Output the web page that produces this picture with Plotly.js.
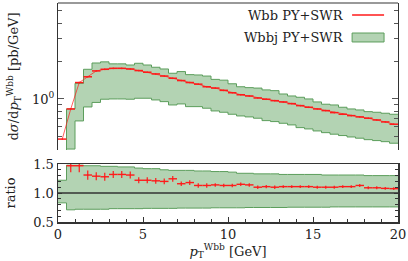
<!DOCTYPE html>
<html>
<head>
<meta charset="utf-8">
<script src="https://cdn.plot.ly/plotly-3.0.1.min.js"></script>
<style>html,body{margin:0;padding:0;background:#fff;}#chart{width:408px;height:261px;}</style>
</head>
<body>
<div id="chart"></div>
<script>
// ---- data ----
const binCenters = [0.25,0.75,1.25,1.75,2.25,2.75,3.25,3.75,4.25,4.75,
  5.25,5.75,6.25,6.75,7.25,7.75,8.25,8.75,9.25,9.75,
  10.25,10.75,11.25,11.75,12.25,12.75,13.25,13.75,14.25,14.75,
  15.25,15.75,16.25,16.75,17.25,17.75,18.25,18.75,19.25,19.75];
const halfBin = 0.25;

// Wbb PY+SWR  [pb/GeV]
const wbb = [0.48,0.833,1.35,1.50,1.67,1.72,1.75,1.75,1.73,1.68,
  1.63,1.58,1.52,1.46,1.40,1.35,1.31,1.25,1.22,1.17,
  1.12,1.08,1.056,1.018,0.995,0.969,0.947,0.918,0.885,0.859,
  0.833,0.808,0.779,0.756,0.737,0.720,0.703,0.681,0.657,0.630];

// Wbbj PY+SWR band [pb/GeV]
const wbbjLo = [0.25,0.40,0.669,0.864,0.938,0.995,1.0,1.0,0.995,1.013,
  1.013,0.982,0.952,0.896,0.913,0.869,0.869,0.844,0.803,0.784,
  0.756,0.733,0.720,0.703,0.673,0.661,0.641,0.622,0.592,0.578,
  0.557,0.540,0.525,0.512,0.499,0.488,0.475,0.467,0.458,0.445];
const wbbjHi = [0.37,0.833,1.33,1.72,1.93,1.97,1.90,1.90,1.86,1.92,
  1.86,1.785,1.73,1.60,1.65,1.56,1.55,1.52,1.43,1.41,
  1.32,1.25,1.23,1.22,1.18,1.164,1.095,1.056,1.031,1.0,
  0.947,0.908,0.896,0.859,0.833,0.818,0.793,0.784,0.770,0.756];

// ratio panel
const ratioWbb = [null,1.47,1.47,1.31,1.29,1.28,1.32,1.32,1.31,1.22,
  1.22,1.21,1.20,1.245,1.16,1.18,1.13,1.13,1.14,1.13,
  1.13,1.15,1.14,1.10,1.11,1.10,1.11,1.11,1.11,1.11,
  1.10,1.10,1.10,1.11,1.11,1.13,1.09,1.09,1.08,1.075];
const ratioErr = [0,0.11,0.11,0.08,0.07,0.07,0.06,0.06,0.06,0.05,
  0.05,0.05,0.05,0.05,0.04,0.04,0.04,0.04,0.03,0.03,
  0.03,0.03,0.03,0.03,0.03,0.03,0.025,0.025,0.025,0.025,
  0.025,0.025,0.025,0.025,0.025,0.025,0.025,0.025,0.025,0.025];
const ratioBandLo = [0.83,0.71,0.72,0.72,0.72,0.72,0.73,0.73,0.73,0.73,
  0.735,0.735,0.735,0.735,0.74,0.74,0.74,0.74,0.745,0.745,
  0.745,0.745,0.75,0.75,0.75,0.75,0.75,0.755,0.755,0.755,
  0.755,0.755,0.76,0.76,0.76,0.76,0.76,0.76,0.76,0.76];
const ratioBandHi = [1.22,1.48,1.48,1.47,1.47,1.46,1.46,1.45,1.45,1.43,
  1.42,1.42,1.40,1.39,1.39,1.39,1.38,1.38,1.37,1.37,
  1.36,1.34,1.34,1.33,1.33,1.33,1.32,1.32,1.32,1.32,
  1.32,1.31,1.31,1.31,1.31,1.31,1.30,1.30,1.30,1.30];

// tick values
const mainMinorTicks = [0.5,0.6,0.7,0.8,0.9,2,3,4,5];
const xTicks = [0,5,10,15,20];
const ratioTicks = [0.5,1.0,1.5];

// ---- helpers ----
function stepXY(vals){
  const x=[], y=[];
  binCenters.forEach((c,i)=>{ x.push(c-halfBin); y.push(vals[i]); });
  const n = binCenters.length-1;
  x.push(binCenters[n]+halfBin); y.push(vals[n]);
  return {x, y};
}

const RED = '#ff1a1a';
const GFILL = 'rgba(160,200,160,0.8)';
const GEDGE = '#5c9e5c';
const FONT = 'DejaVu Serif';

const mLo = stepXY(wbbjLo), mHi = stepXY(wbbjHi);
const rLo = stepXY(ratioBandLo), rHi = stepXY(ratioBandHi);

const traces = [
  {x:mLo.x, y:mLo.y, xaxis:'x', yaxis:'y', mode:'lines', line:{shape:'hv', color:GEDGE, width:1}, showlegend:false, hoverinfo:'skip'},
  {x:mHi.x, y:mHi.y, xaxis:'x', yaxis:'y', mode:'lines', fill:'tonexty', fillcolor:GFILL, line:{shape:'hv', color:GEDGE, width:1}, name:'Wbbj PY+SWR', showlegend:false},
  {x:binCenters, y:wbb, xaxis:'x', yaxis:'y', mode:'lines', line:{color:RED, width:0.7}, name:'Wbb PY+SWR', showlegend:false,
    error_x:{type:'constant', value:halfBin, width:0, thickness:1.5, color:RED},
    error_y:{type:'percent', value:1.5, width:0, thickness:1, color:RED}},
  {x:rLo.x, y:rLo.y, xaxis:'x', yaxis:'y2', mode:'lines', line:{shape:'hv', color:GEDGE, width:1}, showlegend:false, hoverinfo:'skip'},
  {x:rHi.x, y:rHi.y, xaxis:'x', yaxis:'y2', mode:'lines', fill:'tonexty', fillcolor:GFILL, line:{shape:'hv', color:GEDGE, width:1}, showlegend:false},
  {x:binCenters, y:ratioWbb, xaxis:'x', yaxis:'y2', mode:'markers', marker:{size:1, color:RED}, showlegend:false,
    error_x:{type:'constant', value:halfBin, width:0, thickness:1.4, color:RED},
    error_y:{type:'data', array:ratioErr, visible:true, width:0, thickness:1.2, color:RED}}
];

const layout = {
  width:408, height:261,
  margin:{l:58, r:10, t:3, b:39},
  paper_bgcolor:'#fff', plot_bgcolor:'#fff',
  font:{family:FONT, size:13, color:'#222'},
  showlegend:false,
  xaxis:{domain:[0,1], range:[0,20], anchor:'y2', showline:true, mirror:true, linecolor:'#333', linewidth:1.5,
    ticks:'inside', ticklen:5, tickcolor:'#333', tickvals:xTicks, ticktext:xTicks.map(String),
    minor:{ticks:'inside', ticklen:3, dtick:1, tickcolor:'#333'},
    showgrid:false, zeroline:false, tickfont:{family:FONT, size:13},
    title:{text:'<i>p</i><sub>T</sub><sup>Wbb</sup> [GeV]', standoff:2, font:{family:FONT, size:13}}},
  yaxis:{domain:[0.329,1], type:'log', range:[-0.405,0.762], anchor:'x', showline:true, mirror:'allticks', linecolor:'#333', linewidth:1,
    ticks:'inside', ticklen:6, tickcolor:'#555',
    tickvals:[1], ticktext:['10<sup>0</sup>'],
    minor:{ticks:'inside', ticklen:4, tickvals:mainMinorTicks, tickcolor:'#555'},
    showgrid:false, zeroline:false, tickfont:{family:FONT, size:13},
    title:{text:'d<i>σ</i>/d<i>p</i><sub>T</sub><sup>Wbb</sup> [pb/GeV]', standoff:10, font:{family:FONT, size:13}}},
  yaxis2:{domain:[0,0.2648], range:[0.5,1.5], anchor:'x', showline:true, mirror:'allticks', linecolor:'#333', linewidth:1.5,
    ticks:'inside', ticklen:4, tickcolor:'#333', tickvals:ratioTicks, ticktext:['0.5','1.0','1.5'],
    minor:{ticks:'inside', ticklen:3, dtick:0.1, tickcolor:'#333'},
    showgrid:false, zeroline:false, tickfont:{family:FONT, size:13},
    title:{text:'ratio', standoff:14, font:{family:FONT, size:13}}},
  shapes:[
    {type:'line', xref:'paper', yref:'y2', x0:0, x1:1, y0:1, y1:1, line:{color:'#333', width:1.5}, layer:'above'},
    {type:'line', xref:'paper', yref:'paper', x0:0, x1:1, y0:1, y1:1, line:{color:'#999', width:2}},
    {type:'line', xref:'paper', yref:'paper', x0:0.865, x1:0.959, y0:0.945, y1:0.945, line:{color:RED, width:1.5}},
    {type:'rect', xref:'paper', yref:'paper', x0:0.865, x1:0.959, y0:0.822, y1:0.863, fillcolor:GFILL, line:{color:GEDGE, width:1}}
  ],
  annotations:[
    {xref:'paper', yref:'paper', x:0.847, y:0.945, xanchor:'right', yanchor:'middle', text:'Wbb PY+SWR', showarrow:false, font:{family:FONT, size:13}},
    {xref:'paper', yref:'paper', x:0.847, y:0.843, xanchor:'right', yanchor:'middle', text:'Wbbj PY+SWR', showarrow:false, font:{family:FONT, size:13}}
  ]
};

Plotly.newPlot('chart', traces, layout, {staticPlot:true, displayModeBar:false});
</script>
</body>
</html>
